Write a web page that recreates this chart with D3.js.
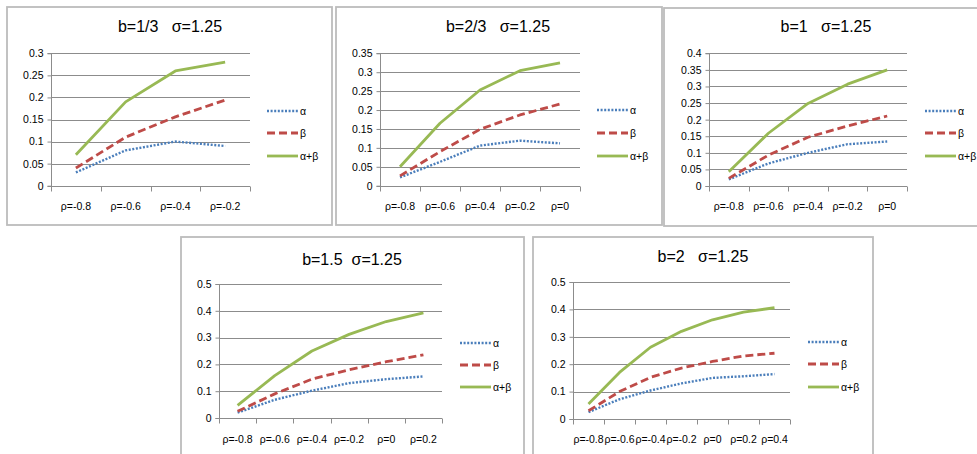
<!DOCTYPE html>
<html><head><meta charset="utf-8">
<script src="https://cdn.jsdelivr.net/npm/d3@7"></script>
<style>
html,body{margin:0;padding:0;background:#fff;}
svg{display:block;font-family:"Liberation Sans",Arial,sans-serif;}
</style></head>
<body><svg id="c" width="977" height="454"></svg>
<script>
// ---------- DATA ----------
const titles = ["b=1/3   σ=1.25", "b=2/3   σ=1.25", "b=1   σ=1.25", "b=1.5  σ=1.25", "b=2   σ=1.25"];
const seriesNames = ["α", "β", "α+β"];

const rho1 = ["ρ=-0.8", "ρ=-0.6", "ρ=-0.4", "ρ=-0.2"];
const rho2 = ["ρ=-0.8", "ρ=-0.6", "ρ=-0.4", "ρ=-0.2", "ρ=0"];
const rho3 = ["ρ=-0.8", "ρ=-0.6", "ρ=-0.4", "ρ=-0.2", "ρ=0"];
const rho4 = ["ρ=-0.8", "ρ=-0.6", "ρ=-0.4", "ρ=-0.2", "ρ=0", "ρ=0.2"];
const rho5 = ["ρ=-0.8", "ρ=-0.6", "ρ=-0.4", "ρ=-0.2", "ρ=0", "ρ=0.2", "ρ=0.4"];

const alpha1 = [0.030, 0.080, 0.100, 0.090];
const beta1  = [0.040, 0.110, 0.156, 0.194];
const sum1   = [0.070, 0.190, 0.260, 0.280];

const alpha2 = [0.022, 0.063, 0.106, 0.119, 0.112];
const beta2  = [0.026, 0.090, 0.149, 0.187, 0.216];
const sum2   = [0.050, 0.165, 0.253, 0.304, 0.325];

const alpha3 = [0.020, 0.068, 0.100, 0.126, 0.134];
const beta3  = [0.023, 0.093, 0.147, 0.181, 0.211];
const sum3   = [0.043, 0.159, 0.249, 0.307, 0.350];

const alpha4 = [0.020, 0.068, 0.102, 0.130, 0.145, 0.155];
const beta4  = [0.025, 0.090, 0.145, 0.180, 0.210, 0.236];
const sum4   = [0.047, 0.158, 0.250, 0.312, 0.360, 0.392];

const alpha5 = [0.025, 0.072, 0.104, 0.130, 0.150, 0.156, 0.164];
const beta5  = [0.030, 0.100, 0.152, 0.186, 0.210, 0.230, 0.240];
const sum5   = [0.055, 0.170, 0.262, 0.320, 0.362, 0.390, 0.406];

const yTicks1 = [0, 0.05, 0.1, 0.15, 0.2, 0.25, 0.3];
const yTicks2 = [0, 0.05, 0.1, 0.15, 0.2, 0.25, 0.3, 0.35];
const yTicks3 = [0, 0.05, 0.1, 0.15, 0.2, 0.25, 0.3, 0.35, 0.4];
const yTicks4 = [0, 0.1, 0.2, 0.3, 0.4, 0.5];
const yTicks5 = [0, 0.1, 0.2, 0.3, 0.4, 0.5];

// ---------- LAYOUT ----------
const panels = [
  {title: titles[0], cats: rho1, a: alpha1, b: beta1, s: sum1, ticks: yTicks1,
   frame: [7, 7, 332, 225], plot: [51, 250, 185.7, 53.3], tx: 170, ty: 32, lx: 267, ly: [111, 133, 156], xly: 210},
  {title: titles[1], cats: rho2, a: alpha2, b: beta2, s: sum2, ticks: yTicks2,
   frame: [336, 7, 662, 225], plot: [380, 580, 185.7, 53.3], tx: 498, ty: 32, lx: 597, ly: [110, 133, 156], xly: 210},
  {title: titles[2], cats: rho3, a: alpha3, b: beta3, s: sum3, ticks: yTicks3,
   frame: [664, 8, 990, 226], plot: [709, 907, 186, 53.3], tx: 826, ty: 32, lx: 925, ly: [111, 133, 156], xly: 210},
  {title: titles[3], cats: rho4, a: alpha4, b: beta4, s: sum4, ticks: yTicks4,
   frame: [181, 237, 524, 470], plot: [219, 442, 418, 284], tx: 352, ty: 265, lx: 460, ly: [343, 365, 387], xly: 443},
  {title: titles[4], cats: rho5, a: alpha5, b: beta5, s: sum5, ticks: yTicks5,
   frame: [533, 237, 873, 470], plot: [573, 790, 419, 282], tx: 703, ty: 262, lx: 808, ly: [342, 364, 387], xly: 443}
];

const colors = ["#4a7ebb", "#be4b48", "#98b954"];
const dashes = ["2,1.6", "8,4", null];
const widths = [2.4, 2.8, 2.8];
const gridColor = "#8c8c8c";

const svg = d3.select("#c");

panels.forEach(p => {
  const g = svg.append("g");
  const [fx0, fy0, fx1, fy1] = p.frame;
  g.append("rect").attr("x", fx0).attr("y", fy0).attr("width", fx1 - fx0).attr("height", fy1 - fy0)
    .attr("fill", "#fff").attr("stroke", "#bcbcbc").attr("stroke-width", 1.8);

  const [x0, x1, y0, y1] = p.plot;
  const x = d3.scaleBand().domain(p.cats).range([x0, x1]).paddingInner(0).paddingOuter(0);
  const yMax = p.ticks[p.ticks.length - 1];
  const y = d3.scaleLinear().domain([0, yMax]).range([y0, y1]);

  // gridlines
  g.append("g").selectAll("line").data(p.ticks.filter(t => t > 0)).join("line")
    .attr("x1", x0).attr("x2", x1)
    .attr("y1", d => Math.round(y(d)) + 0.5).attr("y2", d => Math.round(y(d)) + 0.5)
    .attr("stroke", gridColor).attr("stroke-width", 1);

  // y axis
  const ya = g.append("g").attr("transform", `translate(${Math.round(x0) + 0.5},0)`)
    .call(d3.axisLeft(y).tickValues(p.ticks).tickSize(4).tickPadding(4).tickFormat(d => String(+d.toFixed(2))));
  ya.select(".domain").attr("stroke", gridColor).attr("d", `M-4,${Math.round(y0)+0.5}H0V${Math.round(y1)+0.5}H-4`);
  ya.selectAll(".tick line").attr("stroke", gridColor);
  ya.selectAll("text").attr("font-size", 10.5).attr("fill", "#000")
    .attr("font-family", '"Liberation Sans",Arial,sans-serif');

  // x axis
  const xa = g.append("g").attr("transform", `translate(0,${Math.round(y0) + 0.5})`)
    .call(d3.axisBottom(x).tickSize(0).tickPadding(0));
  xa.select(".domain").remove();
  xa.selectAll("text").attr("font-size", 10.5).attr("fill", "#000").attr("dy", null)
    .attr("y", p.xly - Math.round(y0) - 0.5)
    .attr("font-family", '"Liberation Sans",Arial,sans-serif');
  g.append("line").attr("x1", x0).attr("x2", x1)
    .attr("y1", Math.round(y0) + 0.5).attr("y2", Math.round(y0) + 0.5).attr("stroke", gridColor);
  const bounds = p.cats.map(c => x(c)).concat([x1]);
  g.append("g").selectAll("line").data(bounds).join("line")
    .attr("x1", d => Math.round(d) + 0.5).attr("x2", d => Math.round(d) + 0.5)
    .attr("y1", Math.round(y0) + 0.5).attr("y2", Math.round(y0) + 5.5)
    .attr("stroke", gridColor);

  // lines
  const line = d3.line().x((d, i) => x(p.cats[i]) + x.bandwidth() / 2).y(d => y(d));
  [p.a, p.b, p.s].forEach((vals, k) => {
    g.append("path").datum(vals).attr("d", line).attr("fill", "none")
      .attr("stroke", colors[k]).attr("stroke-width", widths[k])
      .attr("stroke-dasharray", dashes[k]).attr("stroke-linejoin", "round");
  });

  // legend
  seriesNames.forEach((n, k) => {
    g.append("line").attr("x1", p.lx).attr("x2", p.lx + 31).attr("y1", p.ly[k]).attr("y2", p.ly[k])
      .attr("stroke", colors[k]).attr("stroke-width", widths[k]).attr("stroke-dasharray", dashes[k]);
    g.append("text").attr("x", p.lx + 33).attr("y", p.ly[k] + 4).attr("font-size", 10.5).text(n);
  });

  // title
  g.append("text").attr("x", p.tx).attr("y", p.ty).attr("text-anchor", "middle")
    .attr("font-size", 16).style("white-space", "pre").text(p.title);
});
</script>
</body></html>
